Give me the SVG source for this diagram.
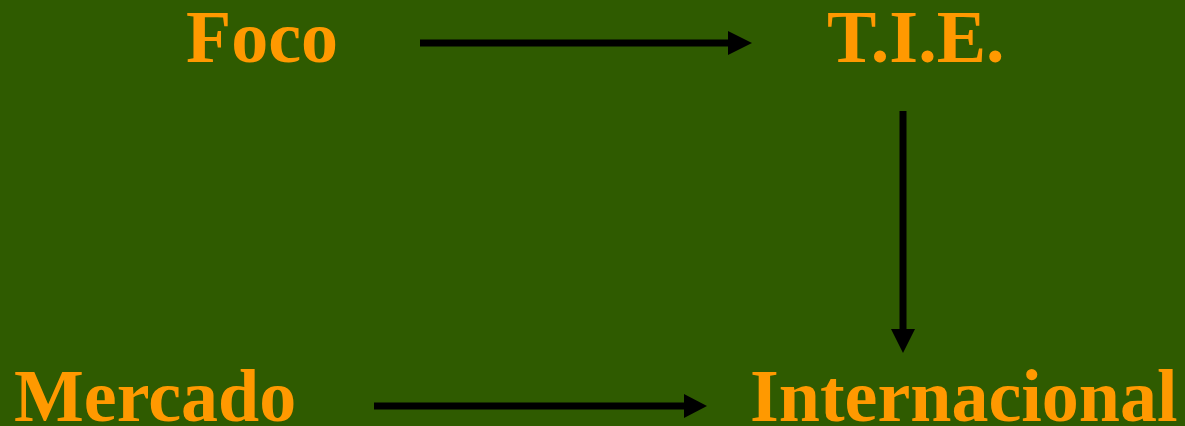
<svg xmlns="http://www.w3.org/2000/svg" width="1185" height="426" viewBox="0 0 1185 426">
<defs>
<style>
.lbl{font-family:"Liberation Serif","Times New Roman",serif;font-weight:bold;font-size:74px;fill:#FF9900}
.ln{stroke:#000;stroke-width:7;fill:none}
.hd{fill:#000}
</style>
</defs>
<rect width="1185" height="426" fill="#2F5B00"/>
<g id="node-foco"><text class="lbl" x="186" y="62">Foco</text></g>
<g id="node-tie"><text class="lbl" x="827" y="62">T.I.E.</text></g>
<g id="node-mercado"><text class="lbl" x="14" y="421">Mercado</text></g>
<g id="node-internacional"><text class="lbl" x="750" y="421">Internacional</text></g>
<g id="connectors">
<line class="ln" x1="420" y1="43" x2="730" y2="43"/>
<polygon class="hd" points="728,31 752,43 728,55"/>
<line class="ln" x1="903" y1="111" x2="903" y2="331"/>
<polygon class="hd" points="891,329 915,329 903,353"/>
<line class="ln" x1="374" y1="406" x2="686" y2="406"/>
<polygon class="hd" points="684,394 707,406 684,418"/>
</g>
</svg>
